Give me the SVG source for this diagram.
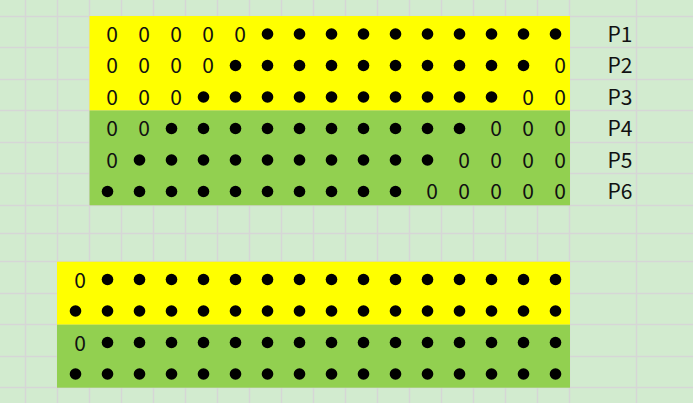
<svg xmlns="http://www.w3.org/2000/svg" width="693" height="403" viewBox="0 0 693 403">
<defs>
<style>
.bg{fill:#D2EBCF}
.g{stroke:#D6D6D6;stroke-width:1.5;fill:none}
.y{fill:#FFFF00}
.gr{fill:#92D050}
.z{font-family:"Noto Sans CJK SC","Liberation Sans",sans-serif;font-size:21px;fill:#111;text-anchor:end}
.p{font-family:"Noto Sans CJK SC","Liberation Sans",sans-serif;font-size:21px;fill:#111;text-anchor:end}
</style>
<circle id="d" r="5.8" fill="#000"/>
</defs>
<rect class="bg" x="0" y="0" width="693" height="403"/>
<g id="grid" class="g">
<path d="M25.5 0V403M57.5 0V403M89.5 0V403M121.5 0V403M153.5 0V403M185.5 0V403M217.5 0V403M249.5 0V403M281.5 0V403M313.5 0V403M345.5 0V403M377.5 0V403M409.5 0V403M441.5 0V403M473.5 0V403M505.5 0V403M537.5 0V403M569.5 0V403M636.5 0V403"/>
<path d="M0 16.5H693M0 47.5H693M0 79.5H693M0 110.5H693M0 142.5H693M0 173.5H693M0 205.5H693M0 233.5H693M0 261.5H693M0 293.5H693M0 324.5H693M0 356.5H693M0 387.5H693"/>
</g>
<g id="top-block">
<rect class="y" x="89.5" y="16" width="480.5" height="94.5"/>
<rect class="gr" x="89.5" y="110.5" width="480.5" height="94.8"/>
<g id="row-P1">
<text class="z" x="118" y="41.8">0</text><text class="z" x="150" y="41.8">0</text><text class="z" x="182" y="41.8">0</text><text class="z" x="214" y="41.8">0</text><text class="z" x="246" y="41.8">0</text>
<use href="#d" x="267.5" y="34"/><use href="#d" x="299.5" y="34"/><use href="#d" x="331.5" y="34"/><use href="#d" x="363.5" y="34"/><use href="#d" x="395.5" y="34"/><use href="#d" x="427.5" y="34"/><use href="#d" x="459.5" y="34"/><use href="#d" x="491.5" y="34"/><use href="#d" x="523.5" y="34"/><use href="#d" x="555.5" y="34"/>
<text class="p" x="632.5" y="41.8">P1</text>
</g>
<g id="row-P2">
<text class="z" x="118" y="73.3">0</text><text class="z" x="150" y="73.3">0</text><text class="z" x="182" y="73.3">0</text><text class="z" x="214" y="73.3">0</text>
<use href="#d" x="235.5" y="65.5"/><use href="#d" x="267.5" y="65.5"/><use href="#d" x="299.5" y="65.5"/><use href="#d" x="331.5" y="65.5"/><use href="#d" x="363.5" y="65.5"/><use href="#d" x="395.5" y="65.5"/><use href="#d" x="427.5" y="65.5"/><use href="#d" x="459.5" y="65.5"/><use href="#d" x="491.5" y="65.5"/><use href="#d" x="523.5" y="65.5"/>
<text class="z" x="566" y="73.3">0</text>
<text class="p" x="632.5" y="73.3">P2</text>
</g>
<g id="row-P3">
<text class="z" x="118" y="104.8">0</text><text class="z" x="150" y="104.8">0</text><text class="z" x="182" y="104.8">0</text>
<use href="#d" x="203.5" y="97"/><use href="#d" x="235.5" y="97"/><use href="#d" x="267.5" y="97"/><use href="#d" x="299.5" y="97"/><use href="#d" x="331.5" y="97"/><use href="#d" x="363.5" y="97"/><use href="#d" x="395.5" y="97"/><use href="#d" x="427.5" y="97"/><use href="#d" x="459.5" y="97"/><use href="#d" x="491.5" y="97"/>
<text class="z" x="534" y="104.8">0</text><text class="z" x="566" y="104.8">0</text>
<text class="p" x="632.5" y="104.8">P3</text>
</g>
<g id="row-P4">
<text class="z" x="118" y="136.3">0</text><text class="z" x="150" y="136.3">0</text>
<use href="#d" x="171.5" y="128.5"/><use href="#d" x="203.5" y="128.5"/><use href="#d" x="235.5" y="128.5"/><use href="#d" x="267.5" y="128.5"/><use href="#d" x="299.5" y="128.5"/><use href="#d" x="331.5" y="128.5"/><use href="#d" x="363.5" y="128.5"/><use href="#d" x="395.5" y="128.5"/><use href="#d" x="427.5" y="128.5"/><use href="#d" x="459.5" y="128.5"/>
<text class="z" x="502" y="136.3">0</text><text class="z" x="534" y="136.3">0</text><text class="z" x="566" y="136.3">0</text>
<text class="p" x="632.5" y="136.3">P4</text>
</g>
<g id="row-P5">
<text class="z" x="118" y="167.8">0</text>
<use href="#d" x="139.5" y="160"/><use href="#d" x="171.5" y="160"/><use href="#d" x="203.5" y="160"/><use href="#d" x="235.5" y="160"/><use href="#d" x="267.5" y="160"/><use href="#d" x="299.5" y="160"/><use href="#d" x="331.5" y="160"/><use href="#d" x="363.5" y="160"/><use href="#d" x="395.5" y="160"/><use href="#d" x="427.5" y="160"/>
<text class="z" x="470" y="167.8">0</text><text class="z" x="502" y="167.8">0</text><text class="z" x="534" y="167.8">0</text><text class="z" x="566" y="167.8">0</text>
<text class="p" x="632.5" y="167.8">P5</text>
</g>
<g id="row-P6">
<use href="#d" x="107.5" y="191.5"/><use href="#d" x="139.5" y="191.5"/><use href="#d" x="171.5" y="191.5"/><use href="#d" x="203.5" y="191.5"/><use href="#d" x="235.5" y="191.5"/><use href="#d" x="267.5" y="191.5"/><use href="#d" x="299.5" y="191.5"/><use href="#d" x="331.5" y="191.5"/><use href="#d" x="363.5" y="191.5"/><use href="#d" x="395.5" y="191.5"/>
<text class="z" x="438" y="199.3">0</text><text class="z" x="470" y="199.3">0</text><text class="z" x="502" y="199.3">0</text><text class="z" x="534" y="199.3">0</text><text class="z" x="566" y="199.3">0</text>
<text class="p" x="632.5" y="199.3">P6</text>
</g>
</g>
<g id="bottom-block">
<rect class="y" x="57" y="261.7" width="513" height="63"/>
<rect class="gr" x="57" y="324.7" width="513" height="63"/>
<g id="brow-1">
<text class="z" x="86" y="287.8">0</text>
<use href="#d" x="107.5" y="279.5"/><use href="#d" x="139.5" y="279.5"/><use href="#d" x="171.5" y="279.5"/><use href="#d" x="203.5" y="279.5"/><use href="#d" x="235.5" y="279.5"/><use href="#d" x="267.5" y="279.5"/><use href="#d" x="299.5" y="279.5"/><use href="#d" x="331.5" y="279.5"/><use href="#d" x="363.5" y="279.5"/><use href="#d" x="395.5" y="279.5"/><use href="#d" x="427.5" y="279.5"/><use href="#d" x="459.5" y="279.5"/><use href="#d" x="491.5" y="279.5"/><use href="#d" x="523.5" y="279.5"/><use href="#d" x="555.5" y="279.5"/>
</g>
<g id="brow-2">
<use href="#d" x="75.5" y="311"/><use href="#d" x="107.5" y="311"/><use href="#d" x="139.5" y="311"/><use href="#d" x="171.5" y="311"/><use href="#d" x="203.5" y="311"/><use href="#d" x="235.5" y="311"/><use href="#d" x="267.5" y="311"/><use href="#d" x="299.5" y="311"/><use href="#d" x="331.5" y="311"/><use href="#d" x="363.5" y="311"/><use href="#d" x="395.5" y="311"/><use href="#d" x="427.5" y="311"/><use href="#d" x="459.5" y="311"/><use href="#d" x="491.5" y="311"/><use href="#d" x="523.5" y="311"/><use href="#d" x="555.5" y="311"/>
</g>
<g id="brow-3">
<text class="z" x="86" y="350.8">0</text>
<use href="#d" x="107.5" y="342.5"/><use href="#d" x="139.5" y="342.5"/><use href="#d" x="171.5" y="342.5"/><use href="#d" x="203.5" y="342.5"/><use href="#d" x="235.5" y="342.5"/><use href="#d" x="267.5" y="342.5"/><use href="#d" x="299.5" y="342.5"/><use href="#d" x="331.5" y="342.5"/><use href="#d" x="363.5" y="342.5"/><use href="#d" x="395.5" y="342.5"/><use href="#d" x="427.5" y="342.5"/><use href="#d" x="459.5" y="342.5"/><use href="#d" x="491.5" y="342.5"/><use href="#d" x="523.5" y="342.5"/><use href="#d" x="555.5" y="342.5"/>
</g>
<g id="brow-4">
<use href="#d" x="75.5" y="374"/><use href="#d" x="107.5" y="374"/><use href="#d" x="139.5" y="374"/><use href="#d" x="171.5" y="374"/><use href="#d" x="203.5" y="374"/><use href="#d" x="235.5" y="374"/><use href="#d" x="267.5" y="374"/><use href="#d" x="299.5" y="374"/><use href="#d" x="331.5" y="374"/><use href="#d" x="363.5" y="374"/><use href="#d" x="395.5" y="374"/><use href="#d" x="427.5" y="374"/><use href="#d" x="459.5" y="374"/><use href="#d" x="491.5" y="374"/><use href="#d" x="523.5" y="374"/><use href="#d" x="555.5" y="374"/>
</g>
</g>
</svg>
